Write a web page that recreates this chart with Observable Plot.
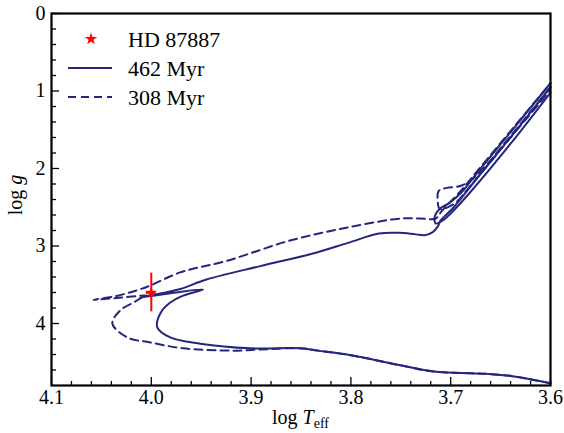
<!DOCTYPE html>
<html><head><meta charset="utf-8">
<script src="https://cdn.jsdelivr.net/npm/d3@7"></script>
<script src="https://cdn.jsdelivr.net/npm/@observablehq/plot@0.6"></script>
<style>
body{margin:0;background:#fff;}
#chart{width:564px;height:433px;}
#chart svg, #chart svg text { font-family: "Liberation Serif", "Times New Roman", serif !important; }
</style>
</head><body><div id="chart"></div>
<script>
// ---- data ----
const starName = "HD 87887";
const starTeff = [4.000];
const starLogg = [3.60];
const starTeffErr = [0.005];
const starLoggErr = [0.25];

const age462Label = "462 Myr";
const age308Label = "308 Myr";

// 462 Myr isochrone: main sequence, hook, subgiant, red giant branch
const iso462Teff = [3.600, 3.638, 3.663, 3.717, 3.750, 3.800, 3.833, 3.851, 3.901, 3.951, 3.981, 3.994, 3.991, 3.981, 3.968, 3.948, 3.981, 4.011, 4.004, 3.990, 3.971, 3.944, 3.891, 3.839, 3.803, 3.772, 3.752, 3.735, 3.726, 3.718, 3.713, 3.710, 3.697, 3.672, 3.637, 3.600];
const iso462Logg = [4.77, 4.68, 4.65, 4.62, 4.54, 4.41, 4.35, 4.32, 4.32, 4.26, 4.18, 4.05, 3.87, 3.73, 3.64, 3.56, 3.61, 3.665, 3.645, 3.61, 3.555, 3.43, 3.26, 3.10, 2.96, 2.84, 2.83, 2.85, 2.86, 2.82, 2.75, 2.67, 2.50, 2.10, 1.55, 0.95];
// 462 Myr core-He-burning loop
const clump462Teff = [3.600, 3.640, 3.670, 3.690, 3.702, 3.711, 3.716, 3.715, 3.709, 3.700, 3.680, 3.640, 3.600];
const clump462Logg = [0.90, 1.53, 2.00, 2.32, 2.45, 2.52, 2.62, 2.71, 2.68, 2.58, 2.30, 1.68, 1.02];

// 308 Myr isochrone
const iso308Teff = [3.600, 3.638, 3.663, 3.717, 3.750, 3.800, 3.833, 3.851, 3.891, 3.918, 3.968, 4.001, 4.024, 4.039, 4.031, 4.018, 4.009, 4.004, 4.030, 4.058, 4.035, 4.014, 4.001, 3.971, 3.924, 3.861, 3.803, 3.750, 3.730, 3.715, 3.709, 3.690, 3.670, 3.637, 3.600];
const iso308Logg = [4.77, 4.68, 4.65, 4.62, 4.54, 4.41, 4.35, 4.32, 4.335, 4.35, 4.32, 4.245, 4.18, 4.00, 3.83, 3.73, 3.665, 3.64, 3.665, 3.695, 3.645, 3.57, 3.51, 3.34, 3.19, 2.93, 2.76, 2.645, 2.645, 2.645, 2.55, 2.29, 1.98, 1.47, 0.90];
const clump308Teff = [3.600, 3.640, 3.675, 3.689, 3.704, 3.712, 3.713, 3.711, 3.697, 3.680, 3.640, 3.600];
const clump308Logg = [0.95, 1.58, 2.10, 2.22, 2.25, 2.29, 2.42, 2.52, 2.46, 2.22, 1.60, 0.99];

// ticks
const xMajor = [4.1, 4.0, 3.9, 3.8, 3.7, 3.6];
const xMinor = [4.08, 4.06, 4.04, 4.02, 3.98, 3.96, 3.94, 3.92, 3.88, 3.86, 3.84, 3.82, 3.78, 3.76, 3.74, 3.72, 3.68, 3.66, 3.64, 3.62];
const yMajor = [0, 1, 2, 3, 4];
const yMinor = [0.2, 0.4, 0.6, 0.8, 1.2, 1.4, 1.6, 1.8, 2.2, 2.4, 2.6, 2.8, 3.2, 3.4, 3.6, 3.8, 4.2, 4.4, 4.6];

// ---- layout / style ----
const W = 564, H = 433, mL = 51, mR = 14, mT = 13, mB = 48;
const xDomain = [4.1, 3.6], yDomain = [0, 4.8];
const pxPerX = (W - mL - mR) / Math.abs(xDomain[0] - xDomain[1]);
const pxPerY = (H - mT - mB) / Math.abs(yDomain[1] - yDomain[0]);
const lineColor = "#24267e";
const dash = "8,5";
const font = "'Liberation Serif', 'Times New Roman', serif";

function rows(tx, ty, seg) { return tx.map((t, i) => ({teff: t, logg: ty[i], seg})); }
const solidData = [...rows(iso462Teff, iso462Logg, "iso"), ...rows(clump462Teff, clump462Logg, "clump")];
const dashedData = [...rows(iso308Teff, iso308Logg, "iso"), ...rows(clump308Teff, clump308Logg, "clump")];
const star = starTeff.map((t, i) => ({teff: t, logg: starLogg[i], te: starTeffErr[i], ge: starLoggErr[i]}));

const xEdge = xDomain[0], yEdge = yDomain[1];

const chart = Plot.plot({
  width: W, height: H,
  marginLeft: mL, marginRight: mR, marginTop: mT, marginBottom: mB,
  style: {fontFamily: font, fontSize: "20px", background: "white", color: "black"},
  x: {domain: xDomain, ticks: xMajor, tickFormat: d3.format(".1f"), tickSize: 0, tickPadding: 4, label: null},
  y: {domain: yDomain, reverse: true, ticks: yMajor, tickFormat: d3.format("d"), tickSize: 0, tickPadding: 6, label: null},
  marks: [
    Plot.line(dashedData, {x: "teff", y: "logg", z: "seg", curve: "catmull-rom", stroke: lineColor, strokeWidth: 2, strokeDasharray: dash}),
    Plot.line(solidData, {x: "teff", y: "logg", z: "seg", curve: "catmull-rom", stroke: lineColor, strokeWidth: 2}),
    Plot.ruleX(star, {x: "teff", y1: d => d.logg - d.ge, y2: d => d.logg + d.ge, stroke: "red", strokeWidth: 2}),
    Plot.ruleY(star, {y: "logg", x1: d => d.teff + d.te, x2: d => d.teff - d.te, stroke: "red", strokeWidth: 2.5}),
    Plot.dot(star, {x: "teff", y: "logg", symbol: "star", r: 3.6, fill: "red", stroke: "none"}),
    // inward ticks
    Plot.ruleX(xMajor, {x: d => d, y1: yEdge, y2: yEdge - 8 / pxPerY, stroke: "black", strokeWidth: 1.3}),
    Plot.ruleX(xMinor, {x: d => d, y1: yEdge, y2: yEdge - 4 / pxPerY, stroke: "black", strokeWidth: 1.3}),
    Plot.ruleY(yMajor, {y: d => d, x1: xEdge, x2: xEdge - 8 / pxPerX, stroke: "black", strokeWidth: 1.3}),
    Plot.ruleY(yMinor, {y: d => d, x1: xEdge, x2: xEdge - 5 / pxPerX, stroke: "black", strokeWidth: 1.3}),
    Plot.frame({stroke: "black", strokeWidth: 2.2})
  ]
});
document.getElementById("chart").appendChild(chart);

// ---- axis titles with rich text ----
const svg = d3.select(chart);
const cx = mL + (W - mL - mR) / 2, cy = mT + (H - mT - mB) / 2;
const xt = svg.append("text").attr("x", cx).attr("y", H - 9).attr("text-anchor", "middle")
  .style("font-size", "20px").attr("fill", "black");
xt.append("tspan").text("log ");
xt.append("tspan").attr("font-style", "italic").text("T");
xt.append("tspan").attr("font-size", "14px").attr("dy", 4).text("eff");
const yt = svg.append("text").attr("transform", `translate(22,${cy - 4}) rotate(-90)`).attr("text-anchor", "middle")
  .style("font-size", "20px").attr("fill", "black");
yt.append("tspan").text("log ");
yt.append("tspan").attr("font-style", "italic").text("g");

// ---- legend (inside frame, top-left) ----
const lg = svg.append("g").style("font-size", "22px").attr("text-anchor", "start");
const rowsY = [39, 68, 97];
lg.append("path").attr("d", d3.symbol(d3.symbolStar, 48)()).attr("transform", `translate(91,${rowsY[0]})`).attr("fill", "red");
lg.append("line").attr("x1", 68).attr("x2", 112).attr("y1", rowsY[1]).attr("y2", rowsY[1]).attr("stroke", lineColor).attr("stroke-width", 2);
lg.append("line").attr("x1", 68).attr("x2", 112).attr("y1", rowsY[2]).attr("y2", rowsY[2]).attr("stroke", lineColor).attr("stroke-width", 2).attr("stroke-dasharray", dash);
[starName, age462Label, age308Label].forEach((t, i) => {
  lg.append("text").attr("x", 128).attr("y", rowsY[i]).attr("dy", "0.35em").attr("text-anchor", "start").attr("fill", "black").text(t);
});
</script>
</body></html>
